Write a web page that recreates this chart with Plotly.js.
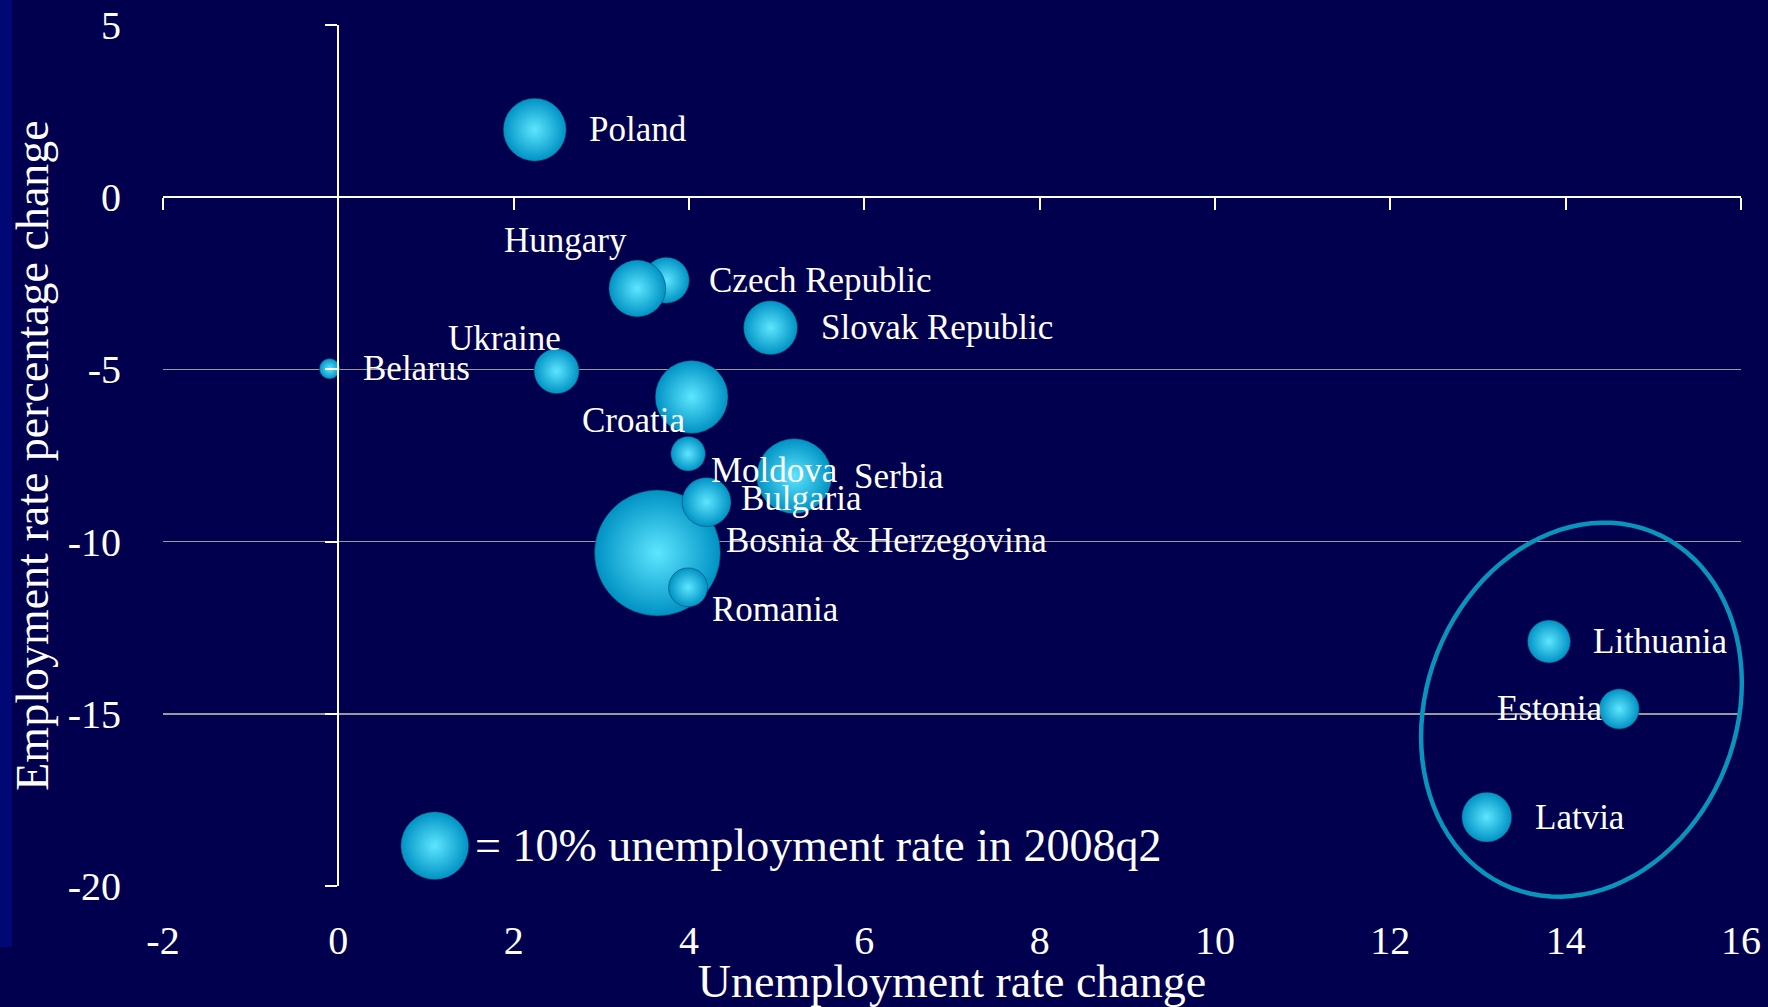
<!DOCTYPE html>
<html>
<head>
<meta charset="utf-8">
<script src="https://cdn.plot.ly/plotly-3.0.1.min.js"></script>
<style>
html,body{margin:0;padding:0;background:#00004e;}
#chart{width:1768px;height:1007px;}
</style>
</head>
<body>
<div id="chart"></div>
<script>
// ---------------- DATA ----------------
const countries = ['Poland','Czech Republic','Hungary','Slovak Republic','Belarus','Ukraine','Croatia','Moldova','Serbia','Bosnia & Herzegovina','Bulgaria','Romania','Lithuania','Estonia','Latvia'];
const unemploymentChange = [2.24, 3.74, 3.41, 4.93, -0.10, 2.49, 4.03, 3.99, 5.20, 3.64, 4.20, 3.99, 13.81, 14.61, 13.10];
const employmentChange   = [1.96, -2.41, -2.65, -3.79, -4.98, -5.05, -5.80, -7.45, -8.10, -10.33, -8.85, -11.33, -12.90, -14.86, -18.00];
const unemployment2008q2 = [8.6, 4.6, 7.0, 6.3, 0.9, 4.4, 11.5, 2.6, 12.2, 34.3, 5.2, 3.3, 4.0, 3.5, 5.4];

const legendBubbleX = [1.1];
const legendBubbleY = [-18.83];
const legendBubbleValue = [10];
const legendText = '= 10% unemployment rate in 2008q2';

const xTickVals   = [-2, 0, 2, 4, 6, 8, 10, 12, 14, 16];
const xTickLabels = ['-2','0','2','4','6','8','10','12','14','16'];
const yTickVals   = [5, 0, -5, -10, -15, -20];
const yTickLabels = ['5','0','-5','-10','-15','-20'];

const xTitle = 'Unemployment rate change';
const yTitle = 'Employment rate percentage change';

// ---------------- STYLE ----------------
const W = 1768, H = 1007;
const M = {l:163, r:27, t:25, b:121};
const xRange = [-2, 16], yRange = [-20, 5];
const plotW = W - M.l - M.r, plotH = H - M.t - M.b;
const bg = '#00004e';
const fontFam = '"Liberation Serif", "Times New Roman", serif';
const legendDiameterPx = 68;
const sizeref = legendBubbleValue[0] / (2 * Math.pow(legendDiameterPx / 2, 2));

// label placement: [xanchor, xshift px, yshift px]
const labelStyle = {
  'Poland': ['left', 52, 0],
  'Czech Republic': ['left', 41, 0],
  'Hungary': ['right', -8, 48],
  'Slovak Republic': ['left', 48, 0],
  'Belarus': ['left', 31, 0],
  'Ukraine': ['right', 6, 33],
  'Croatia': ['right', -5, -24],
  'Moldova': ['left', 21, -17],
  'Serbia': ['left', 58, 0],
  'Bosnia & Herzegovina': ['left', 67, 12],
  'Bulgaria': ['left', 32, 3],
  'Romania': ['left', 22, -22],
  'Lithuania': ['left', 42, 0],
  'Estonia': ['right', -15, 0],
  'Latvia': ['left', 46, 0]
};

const bubbleMarker = {
  sizemode: 'area',
  sizeref: sizeref,
  color: '#0092c4',
  gradient: {type: 'radial', color: '#5ee6ff'},
  line: {width: 0.6, color: 'rgba(0,40,70,0.7)'},
  opacity: 1
};

const traces = [
  {
    type: 'scatter', mode: 'markers',
    x: unemploymentChange, y: employmentChange,
    marker: Object.assign({size: unemployment2008q2}, bubbleMarker),
    cliponaxis: false, hoverinfo: 'skip', showlegend: false
  },
  {
    type: 'scatter', mode: 'markers',
    x: legendBubbleX, y: legendBubbleY,
    xaxis: 'x2', yaxis: 'y2',
    marker: Object.assign({size: legendBubbleValue}, bubbleMarker),
    cliponaxis: false, hoverinfo: 'skip', showlegend: false
  }
];

// annotations
const annotations = countries.map((c, i) => {
  const s = labelStyle[c];
  return {
    x: unemploymentChange[i], y: employmentChange[i], xref: 'x', yref: 'y',
    text: c, showarrow: false, xanchor: s[0], yanchor: 'middle',
    xshift: s[1], yshift: s[2],
    font: {family: fontFam, size: 35, color: '#ffffff'}
  };
});
annotations.push({
  x: legendBubbleX[0], y: legendBubbleY[0], xref: 'x', yref: 'y',
  text: legendText, showarrow: false, xanchor: 'left', yanchor: 'middle',
  xshift: 38, yshift: 0,
  font: {family: fontFam, size: 46, color: '#ffffff'}
});

// helper conversions for decorations
const toPaperX = (x, dpx) => (x - xRange[0]) / (xRange[1] - xRange[0]) + (dpx || 0) / plotW;
const toPaperY = (y, dpy) => (y - yRange[0]) / (yRange[1] - yRange[0]) - (dpy || 0) / plotH;

// ellipse around the Baltic states (rotated), center in data units, radii in px
const ell = {cx: 14.18, cy: -14.88, a: 155, b: 191.5, angleDeg: 21.5};
let ellPath = '';
(function(){
  const phi = ell.angleDeg * Math.PI / 180;
  const n = 96;
  for (let k = 0; k <= n; k++) {
    const t = 2 * Math.PI * k / n;
    const ex = ell.a * Math.cos(t), ey = ell.b * Math.sin(t);
    const dx = ex * Math.cos(phi) - ey * Math.sin(phi);
    const dy = ex * Math.sin(phi) + ey * Math.cos(phi);
    const px = toPaperX(ell.cx, dx), py = toPaperY(ell.cy, dy);
    ellPath += (k === 0 ? 'M ' : ' L ') + px.toFixed(5) + ',' + py.toFixed(5);
  }
  ellPath += ' Z';
})();

const shapes = [
  { // left edge band
    type: 'rect', xref: 'paper', yref: 'paper', layer: 'below',
    x0: -M.l / plotW, x1: (12 - M.l) / plotW,
    y0: (plotH + M.t - 947) / plotH, y1: (plotH + M.t) / plotH,
    fillcolor: 'rgb(0,8,118)', line: {width: 0}
  },
  {
    type: 'path', xref: 'paper', yref: 'paper', layer: 'above',
    path: ellPath, line: {color: '#0894bb', width: 4.5}
  }
];

const layout = {
  width: W, height: H,
  margin: M,
  paper_bgcolor: bg, plot_bgcolor: bg,
  showlegend: false,
  hovermode: false,
  font: {family: fontFam, color: '#ffffff'},
  xaxis: {
    range: xRange, tickmode: 'array', tickvals: xTickVals, ticktext: xTickLabels,
    showgrid: false, zeroline: false, showline: false,
    ticks: 'outside', ticklen: 19, tickcolor: 'rgba(0,0,0,0)',
    tickfont: {family: fontFam, size: 40, color: '#ffffff'},
    title: {text: xTitle, font: {family: fontFam, size: 46, color: '#ffffff'}, standoff: 9},
    fixedrange: true
  },
  yaxis: {
    range: yRange, tickmode: 'array', tickvals: yTickVals, ticktext: yTickLabels,
    showgrid: true, gridcolor: '#9a9a9a', gridwidth: 1.5,
    zeroline: false, showline: false,
    ticks: 'outside', ticklen: 33, tickcolor: 'rgba(0,0,0,0)',
    tickfont: {family: fontFam, size: 40, color: '#ffffff'},
    title: {text: yTitle, font: {family: fontFam, size: 46, color: '#ffffff'}, standoff: 4},
    fixedrange: true
  },
  xaxis2: {
    overlaying: 'x', anchor: 'free',
    position: toPaperY(0),
    range: xRange, tickmode: 'array', tickvals: xTickVals,
    showticklabels: false, showgrid: false, zeroline: false,
    showline: true, linecolor: '#ffffff', linewidth: 2,
    ticks: 'outside', ticklen: 12, tickwidth: 2, tickcolor: '#ffffff',
    fixedrange: true
  },
  yaxis2: {
    overlaying: 'y', anchor: 'free', side: 'left',
    position: toPaperX(0),
    range: yRange, tickmode: 'array', tickvals: yTickVals,
    showticklabels: false, showgrid: false, zeroline: false,
    showline: true, linecolor: '#ffffff', linewidth: 2,
    ticks: 'outside', ticklen: 12, tickwidth: 2, tickcolor: '#ffffff',
    fixedrange: true
  },
  annotations: annotations,
  shapes: shapes
};

Plotly.newPlot('chart', traces, layout, {displayModeBar: false, staticPlot: true});
</script>
</body>
</html>
